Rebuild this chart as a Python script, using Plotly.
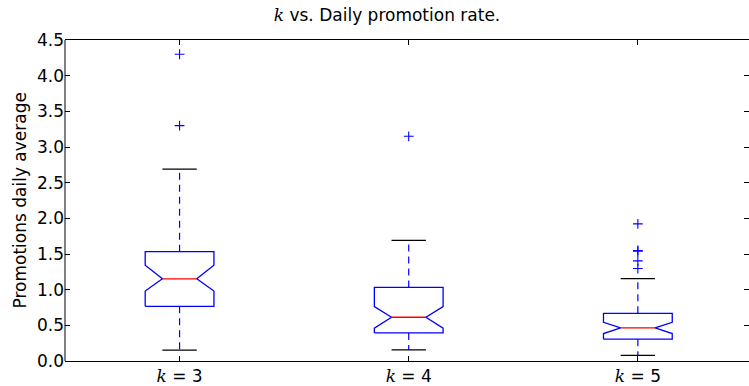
import plotly.graph_objects as go

# Group labels (k values) and summary statistics per group
k_values = [3, 4, 5]
positions = [1, 2, 3]
q1 = [0.766, 0.394, 0.306]
median = [1.152, 0.613, 0.464]
q3 = [1.532, 1.031, 0.669]
notch_low = [0.980, 0.460, 0.385]
notch_high = [1.342, 0.762, 0.543]
whisker_low = [0.153, 0.157, 0.079]
whisker_high = [2.69, 1.69, 1.156]
outliers = [
    [4.30, 3.30],
    [3.15],
    [1.923, 1.550, 1.540, 1.403, 1.296],
]

BOX_HALF = 0.15      # half of the box width (data units)
NOTCH_HALF = 0.075   # half width at the notch waist / caps

FONT = "DejaVu Sans"
SERIF_K = "<span style='font-family:DejaVu Serif'><i>k</i></span>"

box_x, box_y = [], []
med_x, med_y = [], []
wh_x, wh_y = [], []
cap_x, cap_y = [], []
out_x, out_y = [], []

for i, p in enumerate(positions):
    l, r = p - BOX_HALF, p + BOX_HALF
    nl, nr = p - NOTCH_HALF, p + NOTCH_HALF
    # notched box outline
    box_x += [l, l, nl, l, l, r, r, nr, r, r, l, None]
    box_y += [q1[i], notch_low[i], median[i], notch_high[i], q3[i],
              q3[i], notch_high[i], median[i], notch_low[i], q1[i], q1[i], None]
    # median
    med_x += [nl, nr, None]
    med_y += [median[i], median[i], None]
    # whiskers
    wh_x += [p, p, None, p, p, None]
    wh_y += [q3[i], whisker_high[i], None, q1[i], whisker_low[i], None]
    # caps
    cap_x += [nl, nr, None, nl, nr, None]
    cap_y += [whisker_high[i], whisker_high[i], None, whisker_low[i], whisker_low[i], None]
    # fliers
    out_x += [p] * len(outliers[i])
    out_y += outliers[i]

fig = go.Figure()
fig.add_trace(go.Scatter(x=wh_x, y=wh_y, mode="lines",
                         line=dict(color="#0000ff", width=1.2, dash="7px,5px"),
                         hoverinfo="skip"))
fig.add_trace(go.Scatter(x=cap_x, y=cap_y, mode="lines",
                         line=dict(color="#000000", width=1.2), hoverinfo="skip"))
fig.add_trace(go.Scatter(x=box_x, y=box_y, mode="lines",
                         line=dict(color="#0000ff", width=1.3), hoverinfo="skip"))
fig.add_trace(go.Scatter(x=med_x, y=med_y, mode="lines",
                         line=dict(color="#ff0000", width=1.3), hoverinfo="skip"))
fig.add_trace(go.Scatter(x=out_x, y=out_y, mode="markers",
                         marker=dict(symbol="cross-thin", size=7,
                                     line=dict(color="#0000ff", width=1.1)),
                         hoverinfo="skip"))

fig.update_layout(
    width=749, height=386,
    margin=dict(l=65, r=0, t=40, b=23),
    paper_bgcolor="white", plot_bgcolor="white",
    showlegend=False,
    font=dict(family=FONT, size=17, color="black"),
    title=dict(text=SERIF_K + " vs. Daily promotion rate.",
               font=dict(family=FONT, size=17, color="black"),
               x=387 / 749, xref="container", xanchor="center",
               y=1 - 15 / 386, yref="container", yanchor="middle"),
    xaxis=dict(range=[0.5, 3.485], tickmode="array", tickvals=positions,
               ticktext=[SERIF_K + f" = {k}" for k in k_values],
               ticks="inside", ticklen=5, tickcolor="black",
               showline=True, linecolor="black", linewidth=1, mirror="ticks",
               showgrid=False, zeroline=False, tickfont=dict(size=17)),
    yaxis=dict(range=[0, 4.5], tickmode="array",
               tickvals=[0, 0.5, 1, 1.5, 2, 2.5, 3, 3.5, 4, 4.5],
               tickformat=".1f",
               ticks="inside", ticklen=5, tickcolor="black",
               showline=False, mirror="ticks", ticklabelstandoff=0,
               showgrid=False, zeroline=False, tickfont=dict(size=17)),
    shapes=[dict(type="line", xref="paper", yref="paper",
                 x0=0, x1=0, y0=0, y1=1,
                 line=dict(color="black", width=1))],
    annotations=[dict(text="Promotions daily average", textangle=-90,
                      xref="paper", yref="paper", x=(19 - 65) / 684, y=0.5,
                      xanchor="center", yanchor="middle", showarrow=False,
                      font=dict(family=FONT, size=17, color="black"))],
)

fig.write_html("out.html")
